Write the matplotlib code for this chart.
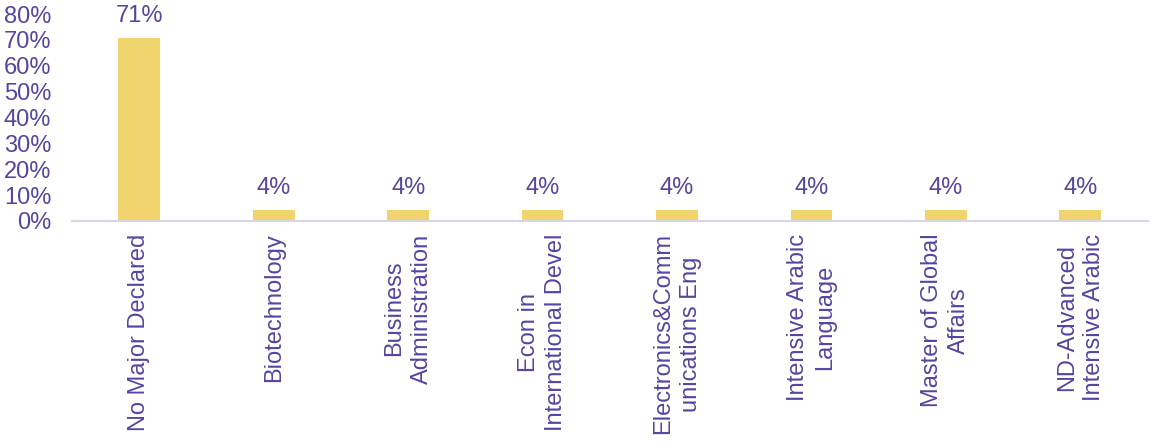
import matplotlib
matplotlib.use('Agg')
import matplotlib.pyplot as plt
from matplotlib.ticker import PercentFormatter, MultipleLocator

# Datos
categorias = [
    'No Major Declared',
    'Biotechnology',
    'Business\nAdministration',
    'Econ in\nInternational Devel',
    'Electronics&Comm\nunications Eng',
    'Intensive Arabic\nLanguage',
    'Master of Global\nAffairs',
    'ND-Advanced\nIntensive Arabic',
]
valores = [0.708, 0.042, 0.042, 0.042, 0.042, 0.042, 0.042, 0.042]

COLOR_BARRA = '#F2D46E'
COLOR_TEXTO = '#5247A0'
COLOR_EJE = '#D8D4EA'

plt.rcParams['font.family'] = ['Liberation Sans', 'DejaVu Sans']

fig = plt.figure(figsize=(11.51, 4.41), dpi=100)
ax = fig.add_axes([0.0626, 0.499, 0.9344, 0.469])

x = range(len(categorias))
barras = ax.bar(x, valores, width=0.31, color=COLOR_BARRA)

for b, v in zip(barras, valores):
    ax.annotate(f'{v:.0%}', (b.get_x() + b.get_width() / 2, v),
                xytext=(0, 8), textcoords='offset points',
                ha='center', va='bottom', fontsize=17, color=COLOR_TEXTO)

ax.set_xlim(-0.5, len(categorias) - 0.5)
ax.set_ylim(0, 0.8)
ax.yaxis.set_major_locator(MultipleLocator(0.1))
ax.yaxis.set_major_formatter(PercentFormatter(1.0, decimals=0))

ax.set_xticks(list(x))
ax.set_xticklabels(categorias, rotation=90, ha='center', va='top',
                   multialignment='center', linespacing=1.3)

ax.tick_params(axis='both', length=0, labelsize=17, labelcolor=COLOR_TEXTO)
ax.tick_params(axis='x', pad=9)
ax.tick_params(axis='y', pad=15)

for lado in ['top', 'right', 'left']:
    ax.spines[lado].set_visible(False)
ax.spines['bottom'].set_color(COLOR_EJE)
ax.spines['bottom'].set_linewidth(1.5)

fig.savefig('out.png', dpi=100)
